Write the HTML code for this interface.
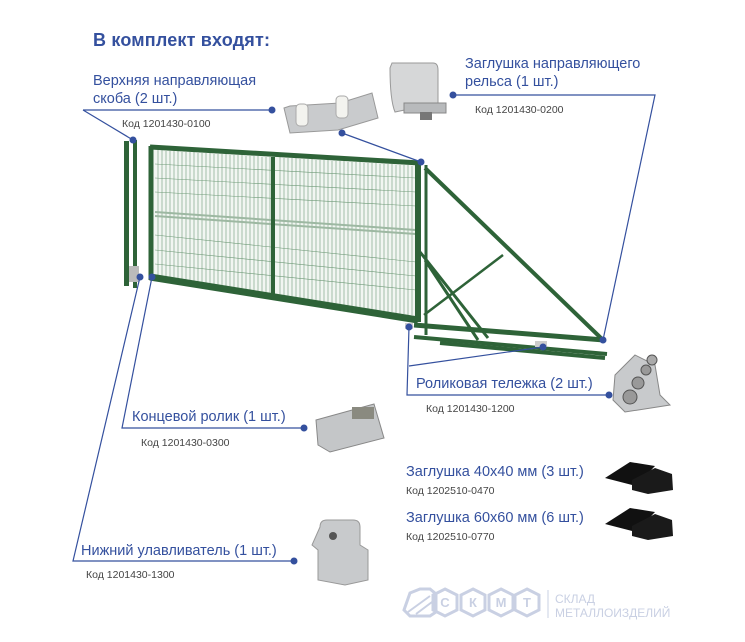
<!DOCTYPE html>
<html><head><meta charset="utf-8"><style>
html,body{margin:0;padding:0;background:#fff}
svg{display:block}
.t{font-family:"Liberation Sans",sans-serif;fill:#34509e}
.k{font-family:"Liberation Sans",sans-serif;fill:#444;font-size:10.5px}
</style></head><body>
<svg width="745" height="642" viewBox="0 0 745 642" xmlns="http://www.w3.org/2000/svg">
<text class="t" x="93" y="46" font-size="18" font-weight="bold" textLength="177">В комплект входят:</text>

<g stroke="#2e6338" fill="none">
 <rect x="124" y="141" width="5" height="145" fill="#2e6338" stroke="none"/>
 <rect x="133" y="140" width="4" height="148" fill="#2e6338" stroke="none"/>
 <polygon points="152,150 418,165 416,316 152,277" fill="#f2f6f2" stroke="none"/>
 <g stroke="#6f9a78" stroke-width="0.6">
  <path d="M158 150V278M162 150V278M166 151V279M170 151V280M174 151V280M178 151V281M182 152V281M186 152V282M190 152V282M194 152V283M198 153V284M202 153V284M206 153V285M210 153V285M214 154V286M218 154V286M222 154V287M226 154V288M230 155V288M234 155V289M238 155V289M242 155V290M246 156V290M250 156V291M254 156V292M258 156V292M262 157V293M266 157V293M270 157V294"/>
  <path d="M280 157V296M284 158V296M288 158V297M292 158V297M296 158V298M300 159V299M304 159V299M308 159V300M312 159V300M316 160V301M320 160V302M324 160V302M328 160V303M332 161V303M336 161V304M340 161V304M344 161V305M348 162V306M352 162V306M356 162V307M360 162V308M364 163V308M368 163V309M372 163V309M376 163V310M380 164V311M384 164V311M388 164V312M392 164V312M396 165V313M400 165V314M404 165V314M408 165V315M412 166V315"/>
  <path d="M155 164L416 178M155 178L416 192M155 192L416 206M155 235L416 262M155 250L416 276M155 264L416 290"/>
 </g>
 <path d="M155 212L416 230M155 216L416 234" stroke="#9db8a2" stroke-width="2"/>
 <path d="M150 147L420 163" stroke-width="5"/>
 <path d="M150 277L418 320" stroke-width="7"/>
 <path d="M151 146V280" stroke-width="5"/>
 <path d="M273 157V294" stroke-width="4"/>
 <path d="M418 162V322" stroke-width="6"/>
 <path d="M426 165V335" stroke-width="3"/>
 <path d="M425 168L603 340" stroke-width="4"/>
 <path d="M420 252L488 338M425 260L478 340" stroke-width="3"/>
 <path d="M424 315L503 255" stroke-width="2.5"/>
 <path d="M414 325L604 340" stroke-width="5"/>
 <path d="M414 337L607 354" stroke-width="4"/>
 <path d="M440 343L605 358" stroke-width="4"/>
</g>
<rect x="129" y="266" width="10" height="16" fill="#bbb"/>
<rect x="405" y="323" width="8" height="6" fill="#ccc"/>
<rect x="535" y="341" width="12" height="6" fill="#ccc"/>

<g>
 <path d="M284 108L290 133L338 130L378 118L372 93L340 103L290 106Z" fill="#c9cbcd" stroke="#999"/>
 <rect x="296" y="104" width="12" height="22" rx="4" fill="#f3f3ef" stroke="#aaa"/>
 <rect x="336" y="96" width="12" height="22" rx="4" fill="#f3f3ef" stroke="#aaa"/>
 <path d="M392 63L433 63Q438 63 438 70V103L395 112Q390 100 390 68Z" fill="#d6d7d8" stroke="#999"/>
 <rect x="404" y="103" width="42" height="10" fill="#b8babc" stroke="#888"/>
 <rect x="420" y="112" width="12" height="8" fill="#777"/>
 <path d="M615 375L635 355L655 365L660 395L670 405L625 412L613 400Z" fill="#c8cacc" stroke="#888"/>
 <circle cx="630" cy="397" r="7" fill="#999" stroke="#555"/><circle cx="638" cy="383" r="6" fill="#999" stroke="#555"/><circle cx="646" cy="370" r="5" fill="#999" stroke="#555"/><circle cx="652" cy="360" r="5" fill="#aaa" stroke="#555"/>
 <path d="M316 420L374 404L384 438L330 452L318 445Z" fill="#c4c6c8" stroke="#888"/>
 <rect x="352" y="407" width="22" height="12" fill="#8a8a80"/>
 <path d="M320 527Q320 520 327 520H353Q360 520 360 527V545L368 550V580L345 585L318 580V550L312 545Z" fill="#c8cacc" stroke="#999"/>
 <circle cx="333" cy="536" r="4" fill="#555"/>
 <path d="M605 478L630 462L655 466L636 486Z" fill="#111"/>
 <path d="M632 480L655 468L672 474L673 490L648 494L632 490Z" fill="#1a1a1a"/>
 <path d="M605 524L630 508L655 512L636 532Z" fill="#111"/>
 <path d="M632 526L655 514L672 520L673 536L648 540L632 536Z" fill="#1a1a1a"/>
</g>

<g stroke="#34509e" stroke-width="1.2" fill="none">
 <path d="M83 110H272M83 110L133 140"/>
 <path d="M342 133L421 162"/>
 <path d="M453 95H655L603 340"/>
 <path d="M409 327L407 395H609M409 366L543 347"/>
 <path d="M152 277L122 428H304"/>
 <path d="M140 277L73 561H294"/>
</g>
<g fill="#34509e">
 <circle cx="272" cy="110" r="3.5"/><circle cx="133" cy="140" r="3.5"/><circle cx="342" cy="133" r="3.5"/><circle cx="421" cy="162" r="3.5"/>
 <circle cx="453" cy="95" r="3.5"/><circle cx="603" cy="340" r="3.5"/>
 <circle cx="409" cy="327" r="3.5"/><circle cx="543" cy="347" r="3.5"/><circle cx="609" cy="395" r="3.5"/>
 <circle cx="152" cy="277" r="3.5"/><circle cx="140" cy="277" r="3.5"/>
 <circle cx="304" cy="428" r="3.5"/><circle cx="294" cy="561" r="3.5"/>
</g>

<text class="t" x="93" y="85" font-size="14.5">Верхняя направляющая</text>
<text class="t" x="93" y="103" font-size="14.5">скоба (2 шт.)</text>
<text class="k" x="122" y="127">Код 1201430-0100</text>
<text class="t" x="465" y="68" font-size="14.5">Заглушка направляющего</text>
<text class="t" x="465" y="86" font-size="14.5">рельса (1 шт.)</text>
<text class="k" x="475" y="113">Код 1201430-0200</text>
<text class="t" x="416" y="388" font-size="14.5">Роликовая тележка (2 шт.)</text>
<text class="k" x="426" y="412">Код 1201430-1200</text>
<text class="t" x="132" y="421" font-size="14.5">Концевой ролик (1 шт.)</text>
<text class="k" x="141" y="446">Код 1201430-0300</text>
<text class="t" x="406" y="476" font-size="14.5">Заглушка 40х40 мм (3 шт.)</text>
<text class="k" x="406" y="494">Код 1202510-0470</text>
<text class="t" x="406" y="522" font-size="14.5">Заглушка 60х60 мм (6 шт.)</text>
<text class="k" x="406" y="540">Код 1202510-0770</text>
<text class="t" x="81" y="555" font-size="14.5">Нижний улавливатель (1 шт.)</text>
<text class="k" x="86" y="578">Код 1201430-1300</text>

<g fill="none" stroke="#c9d0e3" stroke-width="3">
 <polygon points="410,593 420,589 430,589 436,594 436,612 430,616 410,616 404,610"/>
 <path d="M408 612L430 596M416 614L432 602" stroke-width="2"/>
 <polygon points="445,589 457,595 457,610 445,616 433,610 433,595"/>
 <polygon points="473,589 485,595 485,610 473,616 461,610 461,595"/>
 <polygon points="501,589 513,595 513,610 501,616 489,610 489,595"/>
 <polygon points="527,589 539,595 539,610 527,616 515,610 515,595"/>
</g>
<g fill="#c9d0e3" font-family="Liberation Sans,sans-serif" font-weight="bold" font-size="13" text-anchor="middle">
 <text x="445" y="607">С</text><text x="473" y="607">К</text><text x="501" y="607">М</text><text x="527" y="607">Т</text>
</g>
<line x1="548" y1="590" x2="548" y2="618" stroke="#c9d0e3"/>
<text x="555" y="603" font-family="Liberation Sans,sans-serif" font-size="12" fill="#c9d0e3">СКЛАД</text>
<text x="555" y="617" font-family="Liberation Sans,sans-serif" font-size="12" fill="#c9d0e3">МЕТАЛЛОИЗДЕЛИЙ</text>
</svg>
</body></html>
